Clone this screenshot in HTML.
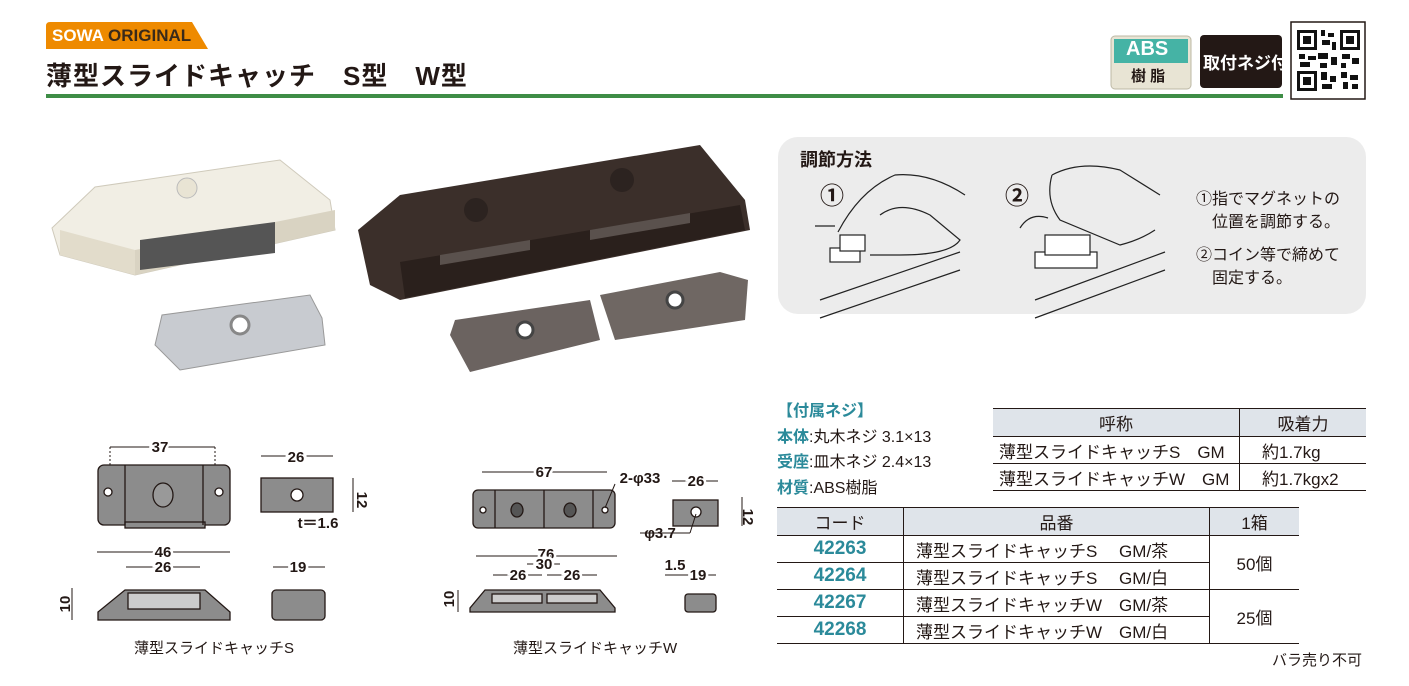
<!DOCTYPE html>
<html><head><meta charset="utf-8"><style>
body{margin:0;width:1409px;height:686px;background:#fff;position:relative;overflow:hidden;font-family:"Liberation Sans","Noto Sans CJK JP",sans-serif;color:#231815}
.a{position:absolute;white-space:nowrap}
table{border-collapse:collapse;position:absolute;font-size:17px}
td{border-bottom:1.5px solid #231815;padding:0;height:26px}
</style></head><body>
<svg class="a" style="left:0;top:0" width="1409" height="686">
 <path d="M46 26 Q46 22 50 22 L192 22 L208 49 L46 49 Z" fill="#ee8a00"/>
 <rect x="46" y="94" width="1237" height="4" fill="#3e8d46"/>
 <rect x="1111" y="36" width="80" height="53" rx="4" fill="#e8e4d4" stroke="#bdb8a5"/>
 <rect x="1114" y="39" width="74" height="24" fill="#45b3a5"/>
 <rect x="1200" y="35" width="82" height="53" rx="4" fill="#231815"/>
 <rect x="1291" y="22" width="74" height="77" fill="#fff" stroke="#231815" stroke-width="1.5"/>
 <g fill="#111">
  <rect x="1297" y="30" width="20" height="20"/><rect x="1340" y="30" width="20" height="20"/><rect x="1297" y="71" width="20" height="20"/>
  <rect x="1321" y="30" width="4" height="6"/><rect x="1328" y="33" width="6" height="4"/><rect x="1322" y="40" width="8" height="5"/><rect x="1332" y="42" width="4" height="8"/>
  <rect x="1299" y="54" width="6" height="5"/><rect x="1308" y="56" width="8" height="4"/><rect x="1318" y="53" width="10" height="6"/><rect x="1331" y="57" width="6" height="8"/><rect x="1342" y="54" width="8" height="5"/><rect x="1352" y="58" width="7" height="6"/>
  <rect x="1300" y="62" width="10" height="5"/><rect x="1320" y="63" width="7" height="5"/><rect x="1341" y="63" width="5" height="5"/>
  <rect x="1321" y="72" width="6" height="8"/><rect x="1330" y="76" width="6" height="6"/><rect x="1322" y="84" width="10" height="5"/><rect x="1341" y="72" width="6" height="6"/><rect x="1350" y="75" width="8" height="5"/><rect x="1343" y="82" width="5" height="7"/><rect x="1352" y="84" width="6" height="5"/>
 </g>
 <g fill="#fff"><rect x="1300" y="33" width="14" height="14"/><rect x="1343" y="33" width="14" height="14"/><rect x="1300" y="74" width="14" height="14"/></g>
 <g fill="#111"><rect x="1303" y="36" width="8" height="8"/><rect x="1346" y="36" width="8" height="8"/><rect x="1303" y="77" width="8" height="8"/></g>
 <rect x="778" y="137" width="588" height="177" rx="20" fill="#ececec"/>
 <g fill="none" stroke="#222" stroke-width="1.2">
  <path d="M820 300 L960 252 M820 318 L960 270 M1035 300 L1165 252 M1035 318 L1165 270"/>
  <path d="M838 232 Q860 190 895 175 Q930 172 965 195 M880 215 Q900 200 930 215 L960 240 Q950 255 900 255 L870 255"/>
  <rect x="830" y="248" width="30" height="14" fill="#fff"/><rect x="840" y="235" width="25" height="16" fill="#fff"/>
  <path d="M1052 175 Q1080 160 1120 170 L1160 195 M1052 175 Q1045 200 1060 220 L1120 245 Q1140 240 1155 230"/>
  <rect x="1035" y="252" width="62" height="16" fill="#fff"/><rect x="1045" y="235" width="45" height="20" fill="#fff"/>
  <path d="M815 226 L835 226 M1020 228 Q1030 212 1048 218"/>
 </g>
 <path d="M52 228 L95 187 L280 160 L330 200 L335 230 L135 275 L60 255 Z" fill="#f1eee4" stroke="#cfcabb"/>
 <path d="M60 230 L135 250 L135 275 L60 255 Z" fill="#e2dccb"/>
 <path d="M135 250 L335 210 L335 230 L135 275 Z" fill="#d9d3c2"/>
 <path d="M140 240 L275 222 L275 253 L140 270 Z" fill="#555"/>
 <circle cx="187" cy="188" r="10" fill="#e9e4d4" stroke="#bbb"/>
 <path d="M155 345 L162 315 L310 295 L322 318 L325 345 L180 370 Z" fill="#c8cbd0" stroke="#999"/>
 <circle cx="240" cy="325" r="9" fill="#fff" stroke="#888" stroke-width="3"/>
 <path d="M358 230 L400 195 L700 145 L745 200 L750 230 L400 300 L370 285 Z" fill="#3b2f2a"/>
 <path d="M400 262 L740 205 L745 230 L405 298 Z" fill="#2a201c"/>
 <path d="M440 255 L530 240 L530 250 L440 265 Z M590 230 L690 213 L690 223 L590 240 Z" fill="#5a514d"/>
 <circle cx="476" cy="210" r="12" fill="#2c2320"/><circle cx="622" cy="180" r="12" fill="#2c2320"/>
 <path d="M450 335 L455 320 L590 300 L600 340 L470 372 Z" fill="#6b6360"/>
 <path d="M600 295 L720 272 L748 280 L745 320 L615 340 Z" fill="#6f6763"/>
 <circle cx="525" cy="330" r="8" fill="#fff" stroke="#444" stroke-width="3"/><circle cx="675" cy="300" r="8" fill="#fff" stroke="#444" stroke-width="3"/>
 <g stroke="#231815" stroke-width="1.3" fill="#8c8c8c">
  <rect x="98" y="465" width="132" height="60" rx="6"/>
  <rect x="125" y="522" width="80" height="6"/>
  <line x1="125" y1="465" x2="125" y2="525"/><line x1="203" y1="465" x2="203" y2="525"/>
  <circle cx="108" cy="492" r="4" fill="#fff"/><circle cx="219" cy="492" r="4" fill="#fff"/>
  <ellipse cx="163" cy="495" rx="10" ry="12" fill="#999"/>
  <rect x="261" y="478" width="72" height="34"/><circle cx="297" cy="495" r="6" fill="#fff"/>
  <path d="M98 620 L98 612 L125 590 L205 590 L230 612 L230 620 Z"/><rect x="128" y="593" width="72" height="16" fill="#ccc"/>
  <rect x="272" y="590" width="53" height="30" rx="4"/>
  <rect x="473" y="490" width="142" height="38" rx="5"/><line x1="495" y1="490" x2="495" y2="528"/><line x1="593" y1="490" x2="593" y2="528"/><line x1="544" y1="490" x2="544" y2="528"/>
  <circle cx="483" cy="510" r="3" fill="#fff"/><circle cx="605" cy="510" r="3" fill="#fff"/>
  <ellipse cx="517" cy="510" rx="6" ry="7" fill="#555"/><ellipse cx="570" cy="510" rx="6" ry="7" fill="#555"/>
  <rect x="673" y="500" width="45" height="26"/><circle cx="696" cy="512" r="5" fill="#fff"/>
  <path d="M470 612 L470 608 L485 590 L600 590 L615 608 L615 612 Z"/>
  <rect x="492" y="594" width="50" height="9" fill="#ccc"/><rect x="547" y="594" width="50" height="9" fill="#ccc"/>
  <rect x="685" y="594" width="31" height="18" rx="3"/>
 </g>
 <g stroke="#231815" stroke-width="1" fill="#231815">
  <line x1="110" y1="447" x2="215" y2="447"/><line x1="110" y1="447" x2="110" y2="465" stroke-dasharray="2 2"/><line x1="215" y1="447" x2="215" y2="465" stroke-dasharray="2 2"/>
  <line x1="261" y1="456" x2="333" y2="456"/>
  <line x1="353" y1="478" x2="353" y2="512"/>
  <line x1="97" y1="552" x2="230" y2="552"/><line x1="126" y1="567" x2="200" y2="567"/><line x1="72" y1="588" x2="72" y2="620"/>
  <line x1="273" y1="567" x2="325" y2="567"/>
  <line x1="482" y1="472" x2="607" y2="472"/><line x1="672" y1="481" x2="718" y2="481"/><line x1="742" y1="497" x2="742" y2="526"/>
  <line x1="476" y1="556" x2="617" y2="556"/><line x1="527" y1="564" x2="560" y2="564"/><line x1="493" y1="575" x2="542" y2="575"/><line x1="547" y1="575" x2="597" y2="575"/>
  <line x1="458" y1="590" x2="458" y2="612"/><line x1="665" y1="575" x2="716" y2="575"/>
  <line x1="640" y1="533" x2="690" y2="533"/><line x1="690" y1="533" x2="696" y2="514"/>
  <line x1="615" y1="484" x2="605" y2="508"/>
 </g>
 <g font-size="15" font-weight="bold" fill="#231815" text-anchor="middle" font-family="Liberation Sans Narrow,Liberation Sans,sans-serif">
  <text x="160" y="452" stroke="#fff" stroke-width="5" paint-order="stroke">37</text>
  <text x="296" y="462" stroke="#fff" stroke-width="5" paint-order="stroke">26</text>
  <text x="367" y="500" transform="rotate(90 362 495)">12</text>
  <text x="318" y="528">t＝1.6</text>
  <text x="163" y="557" stroke="#fff" stroke-width="5" paint-order="stroke">46</text>
  <text x="163" y="572" stroke="#fff" stroke-width="5" paint-order="stroke">26</text>
  <text x="66" y="608" transform="rotate(-90 66 604)">10</text>
  <text x="298" y="572" stroke="#fff" stroke-width="5" paint-order="stroke">19</text>
  <text x="544" y="477" stroke="#fff" stroke-width="5" paint-order="stroke">67</text>
  <text x="640" y="483">2-φ33</text>
  <text x="696" y="486" stroke="#fff" stroke-width="5" paint-order="stroke">26</text>
  <text x="748" y="512" transform="rotate(90 743 512)">12</text>
  <text x="660" y="538">φ3.7</text>
  <text x="546" y="559" stroke="#fff" stroke-width="5" paint-order="stroke">76</text>
  <text x="544" y="569" stroke="#fff" stroke-width="5" paint-order="stroke">30</text>
  <text x="518" y="580" stroke="#fff" stroke-width="5" paint-order="stroke">26</text>
  <text x="572" y="580" stroke="#fff" stroke-width="5" paint-order="stroke">26</text>
  <text x="452" y="605" transform="rotate(-90 450 601)">10</text>
  <text x="675" y="570">1.5</text><text x="698" y="580" stroke="#fff" stroke-width="5" paint-order="stroke">19</text>
 </g>
</svg>
<div class="a" style="left:52px;top:26px;font:bold 17px 'Liberation Sans Narrow','Liberation Sans',sans-serif;color:#fff">SOWA <span style="color:#3a2a1a">ORIGINAL</span></div>
<div class="a" style="left:46px;top:56px;font-weight:bold;font-size:26px;letter-spacing:1px">薄型スライドキャッチ　S型　W型</div>
<div class="a" style="left:1126px;top:38px;font:bold 20px sans-serif;color:#fff">ABS</div>
<div class="a" style="left:1131px;top:65px;font-size:15px;font-weight:bold">樹 脂</div>
<div class="a" style="left:1203px;top:49px;font-size:17px;font-weight:bold;color:#fff">取付ネジ付</div>
<div class="a" style="left:800px;top:146px;font-size:18px;font-weight:bold">調節方法</div>
<div class="a" style="left:820px;top:176px;font-size:24px;font-weight:bold">①</div>
<div class="a" style="left:1005px;top:176px;font-size:24px;font-weight:bold">②</div>
<div class="a" style="left:1196px;top:188px;font-size:16px;line-height:23px">①指でマグネットの<br>　位置を調節する。</div>
<div class="a" style="left:1196px;top:244px;font-size:16px;line-height:23px">②コイン等で締めて<br>　固定する。</div>
<div class="a" style="left:777px;top:399px;font-size:16px;line-height:25.5px"><span style="color:#2b8a9a;font-weight:bold">【付属ネジ】</span><br><b style="color:#2b8a9a">本体</b>:丸木ネジ 3.1×13<br><b style="color:#2b8a9a">受座</b>:皿木ネジ 2.4×13<br><b style="color:#2b8a9a">材質</b>:ABS樹脂</div>
<table style="left:993px;top:408px;width:373px;border-top:1.5px solid #231815">
<tr style="background:#dfe4ea"><td style="text-align:center;width:246px;border-right:1.5px solid #231815;height:27px">呼称</td><td style="text-align:center">吸着力</td></tr>
<tr><td style="border-right:1.5px solid #231815;padding-left:6px">薄型スライドキャッチS　GM</td><td style="padding-left:22px">約1.7kg</td></tr>
<tr><td style="border-right:1.5px solid #231815;padding-left:6px">薄型スライドキャッチW　GM</td><td style="padding-left:22px">約1.7kgx2</td></tr>
</table>
<table style="left:777px;top:507px;width:522px;border-top:1.5px solid #231815">
<tr style="background:#dfe4ea"><td style="text-align:center;width:126px;border-right:1.5px solid #231815;height:27px">コード</td><td style="text-align:center;width:305px;border-right:1.5px solid #231815">品番</td><td style="text-align:center">1箱</td></tr>
<tr><td style="text-align:center;color:#2b8a9a;font-weight:bold;font-size:19px;border-right:1.5px solid #231815">42263</td><td style="padding-left:12px;border-right:1.5px solid #231815">薄型スライドキャッチS　 GM/茶</td><td rowspan="2" style="text-align:center">50個</td></tr>
<tr><td style="text-align:center;color:#2b8a9a;font-weight:bold;font-size:19px;border-right:1.5px solid #231815">42264</td><td style="padding-left:12px;border-right:1.5px solid #231815">薄型スライドキャッチS　 GM/白</td></tr>
<tr><td style="text-align:center;color:#2b8a9a;font-weight:bold;font-size:19px;border-right:1.5px solid #231815">42267</td><td style="padding-left:12px;border-right:1.5px solid #231815">薄型スライドキャッチW　GM/茶</td><td rowspan="2" style="text-align:center">25個</td></tr>
<tr><td style="text-align:center;color:#2b8a9a;font-weight:bold;font-size:19px;border-right:1.5px solid #231815">42268</td><td style="padding-left:12px;border-right:1.5px solid #231815">薄型スライドキャッチW　GM/白</td></tr>
</table>
<div class="a" style="left:1272px;top:649px;font-size:15px">バラ売り不可</div>
<div class="a" style="left:134px;top:637px;font-size:15px">薄型スライドキャッチS</div>
<div class="a" style="left:513px;top:637px;font-size:15px">薄型スライドキャッチW</div>
</body></html>
